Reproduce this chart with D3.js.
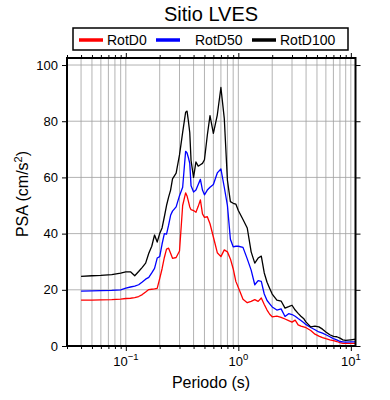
<!DOCTYPE html>
<html lang="es">
<head>
  <meta charset="UTF-8">
  <title>Sitio LVES</title>
  <script src="https://d3js.org/d3.v7.min.js"></script>
</head>
<body style="margin:0; background:#fff;">
  <div id="chart"></div>
  <script>
// Periodos (s) y espectros PSA (cm/s^2)
const periods = [0.04, 0.05, 0.06, 0.075, 0.09, 0.1, 0.11, 0.12, 0.13, 0.14, 0.15, 0.16, 0.17, 0.18, 0.19,
  0.2, 0.21, 0.22, 0.23, 0.24, 0.25, 0.26, 0.28, 0.3, 0.32, 0.34, 0.35, 0.36, 0.37, 0.38, 0.4, 0.42, 0.44,
  0.46, 0.48, 0.5, 0.53, 0.56, 0.6, 0.65, 0.7, 0.75, 0.8, 0.85, 0.9, 0.95, 1.0, 1.1, 1.2, 1.3, 1.4, 1.5,
  1.6, 1.7, 1.8, 1.9, 2.0, 2.2, 2.4, 2.6, 2.8, 3.0, 3.2, 3.4, 3.6, 3.8, 4.0, 4.4, 4.8, 5.2, 5.6, 6.0,
  6.5, 7.0, 7.5, 8.0, 8.5, 9.0, 10.0, 11.0];

const rotD0 = [16.3, 16.3, 16.4, 16.5, 16.7, 16.9, 17.0, 17.2, 17.6, 18.3, 19.2, 20.1, 20.2, 20.3, 20.5,
  24.0, 27.5, 31.5, 34.5, 34.8, 33.0, 31.2, 31.5, 33.8, 50.0, 54.5, 53.4, 51.5, 49.5, 48.5, 48.2, 47.6, 49.7,
  52.0, 47.0, 45.8, 46.0, 43.5, 38.8, 33.2, 31.8, 34.2, 33.5, 31.0, 27.5, 23.0, 20.8, 16.6, 15.4, 15.9, 16.5, 15.9,
  17.1, 14.8, 12.8, 11.3, 10.4, 10.6, 10.2, 9.6, 9.0, 8.5, 9.2, 7.5, 7.1, 6.8, 6.5, 5.5, 4.2, 3.5, 3.0, 2.6,
  2.2, 1.9, 1.6, 1.2, 0.9, 0.9, 0.9, 0.9];

const rotD50 = [19.5, 19.6, 19.7, 19.8, 20.0, 20.6, 21.0, 21.3, 21.8, 22.8, 23.8, 24.4, 26.0, 27.6, 31.3,
  31.8, 36.3, 40.0, 39.8, 43.0, 46.5, 48.0, 49.5, 53.5, 56.5, 69.3, 68.7, 67.0, 65.0, 57.0, 54.8, 55.5, 57.5,
  59.3, 55.5, 53.8, 55.5, 56.5, 57.5, 61.6, 63.0, 56.5, 50.0, 38.0, 35.3, 35.5, 35.5, 35.1, 31.0, 27.0, 21.8, 23.3,
  23.0, 18.5, 16.2, 15.0, 13.9, 12.8, 13.2, 10.5, 11.5, 11.2, 10.6, 9.8, 9.1, 8.4, 7.6, 6.6, 5.8, 5.0, 4.6, 4.0,
  3.3, 2.6, 2.2, 1.6, 1.5, 1.4, 1.5, 1.5];

const rotD100 = [24.8, 25.0, 25.1, 25.4, 25.9, 26.4, 26.4, 25.0, 26.5, 28.0, 29.5, 33.0, 35.5, 39.5, 37.0,
  40.0, 42.0, 46.0, 50.0, 53.0, 55.5, 59.5, 61.5, 68.0, 76.0, 83.2, 83.6, 80.0, 76.0, 66.0, 60.0, 65.5, 64.0,
  64.5, 65.0, 66.3, 75.0, 82.0, 75.7, 82.2, 92.0, 81.0, 59.0, 51.4, 50.8, 50.5, 48.2, 45.0, 42.0, 33.5, 29.5, 31.3,
  32.0, 26.0, 22.7, 20.5, 18.5, 16.3, 16.0, 13.5, 14.0, 14.5, 12.8, 11.6, 10.6, 9.8, 8.5, 6.8, 7.1, 6.8, 6.0, 5.0,
  4.0, 3.4, 3.3, 2.8, 2.2, 2.0, 2.2, 2.4];

const seriesNames = ["RotD0", "RotD50", "RotD100"];
const seriesColors = ["#ff0000", "#0000ff", "#000000"];
const seriesValues = [rotD0, rotD50, rotD100];

const yTicks = [0, 20, 40, 60, 80, 100];
const xMajor = [0.1, 1, 10];
const xMajorExp = ["\u22121", "0", "1"];

const W = 390, H = 400;
const pLeft = 67, pRight = 355.5, pTop = 58, pBottom = 346;
const font = "'Liberation Sans', Arial, sans-serif";

const svg = d3.select("#chart").append("svg")
  .attr("width", W).attr("height", H)
  .style("font-family", font);

const x = d3.scaleLog().domain([0.03, 11]).range([pLeft, pRight]);
const y = d3.scaleLinear().domain([0, 102.5]).range([pBottom, pTop]);

// log ticks 0.03 .. 10
const xAll = [];
[0.01, 0.1, 1, 10].forEach(d => {
  for (let k = 1; k <= 9; k++) {
    const v = +(d * k).toPrecision(3);
    if (v >= 0.03 && v <= 11) xAll.push(v);
  }
});
const xMinor = xAll.filter(v => !xMajor.includes(v));

// grid
svg.append("g").selectAll("line").data(xAll).join("line")
  .attr("x1", d => x(d)).attr("x2", d => x(d))
  .attr("y1", pTop).attr("y2", pBottom)
  .attr("stroke", "#a0a0a0").attr("stroke-width", 0.8);
svg.append("g").selectAll("line").data(yTicks.filter(d => d > 0)).join("line")
  .attr("x1", pLeft).attr("x2", pRight)
  .attr("y1", d => y(d)).attr("y2", d => y(d))
  .attr("stroke", "#a0a0a0").attr("stroke-width", 0.8);

// curves
const line = d3.line()
  .x((d, i) => x(periods[i]))
  .y(d => y(d));
svg.append("g").selectAll("path").data(seriesValues).join("path")
  .attr("d", d => line(d))
  .attr("fill", "none")
  .attr("stroke", (d, i) => seriesColors[i])
  .attr("stroke-width", 1.3)
  .attr("stroke-linejoin", "round");

// axes (ticks outward on all four sides)
const fmtNone = () => "";
svg.append("g").attr("transform", `translate(0,${pBottom})`)
  .call(d3.axisBottom(x).tickValues(xMinor).tickSize(3).tickFormat(fmtNone));
svg.append("g").attr("transform", `translate(0,${pBottom})`)
  .call(d3.axisBottom(x).tickValues(xMajor).tickSize(5).tickFormat(fmtNone));
svg.append("g").attr("transform", `translate(0,${pTop})`)
  .call(d3.axisTop(x).tickValues(xMinor).tickSize(3).tickFormat(fmtNone));
svg.append("g").attr("transform", `translate(0,${pTop})`)
  .call(d3.axisTop(x).tickValues(xMajor).tickSize(5).tickFormat(fmtNone));
const yAxis = svg.append("g").attr("transform", `translate(${pLeft},0)`)
  .call(d3.axisLeft(y).tickValues(yTicks).tickSize(5).tickPadding(4));
yAxis.selectAll("text").attr("font-size", 13).attr("font-family", font).attr("fill", "#000");
svg.append("g").attr("transform", `translate(${pRight},0)`)
  .call(d3.axisRight(y).tickValues(yTicks).tickSize(5).tickFormat(fmtNone));
svg.selectAll(".domain").remove();
svg.selectAll(".tick line").attr("stroke", "#000").attr("stroke-width", 1);

// x tick labels with exponents
const xl = svg.append("g").selectAll("text").data(xMajor).join("text")
  .attr("x", d => x(d)).attr("y", 366)
  .attr("text-anchor", "middle").attr("font-size", 13).attr("fill", "#000");
xl.append("tspan").text("10");
xl.append("tspan").attr("dy", -6).attr("font-size", 9.5).text((d, i) => xMajorExp[i]);

// frame
svg.append("rect")
  .attr("x", pLeft).attr("y", pTop)
  .attr("width", pRight - pLeft).attr("height", pBottom - pTop)
  .attr("fill", "none").attr("stroke", "#000").attr("stroke-width", 2);

// title
svg.append("text").attr("x", 211).attr("y", 21)
  .attr("text-anchor", "middle").attr("font-size", 20).text("Sitio LVES");

// axis labels
svg.append("text").attr("x", 211).attr("y", 388)
  .attr("text-anchor", "middle").attr("font-size", 16).text("Periodo (s)");
const yl = svg.append("text")
  .attr("transform", "translate(28,194) rotate(-90)")
  .attr("text-anchor", "middle").attr("font-size", 16);
yl.append("tspan").text("PSA (cm/s");
yl.append("tspan").attr("dy", -6).attr("font-size", 11).text("2");
yl.append("tspan").attr("dy", 6).text(")");

// legend
const legendX = [79, 156, 252];
svg.append("rect").attr("x", 73).attr("y", 28).attr("width", 275).attr("height", 22)
  .attr("fill", "#fff").attr("stroke", "#000").attr("stroke-width", 1.5);
const lg = svg.append("g").selectAll("g").data(seriesNames).join("g")
  .attr("transform", (d, i) => `translate(${legendX[i]},40)`);
lg.append("line").attr("x1", 0).attr("x2", 24).attr("y1", 0).attr("y2", 0)
  .attr("stroke", (d, i) => seriesColors[i]).attr("stroke-width", 3.5);
lg.append("text").attr("x", (d, i) => i === 1 ? 39 : 28).attr("y", 5)
  .attr("font-size", 14).text(d => d);
  </script>
</body>
</html>
